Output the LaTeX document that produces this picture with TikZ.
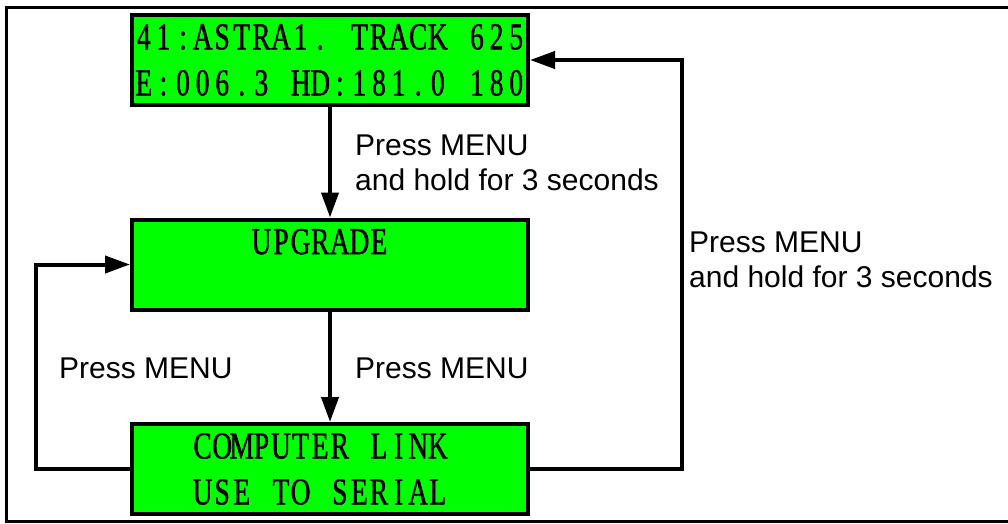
\documentclass[tikz,border=0pt]{standalone}
\usepackage{fontspec}
\setmainfont{Liberation Sans}
\newfontfamily\lcdfont[FakeStretch=0.72,FakeBold=1.2]{Liberation Serif}
\usetikzlibrary{arrows.meta}
\definecolor{lcdgreen}{RGB}{0,255,0}
\newlength\lcdpitch
\setlength\lcdpitch{19.6pt}
\def\lcdrow#1{\lcdcell#1\relax}
\def\lcdcell#1{\ifx#1\relax\else\makebox[\lcdpitch]{#1}\expandafter\lcdcell\fi}
\tikzset{
  lcd/.style={draw, line width=4pt, fill=lcdgreen, minimum width=396pt, minimum height=90pt,
    inner xsep=2pt, inner ysep=4pt, text width=392pt, align=left, font=\lcdfont\fontsize{38}{46}\selectfont},
  arr/.style={line width=4pt, -{Triangle[length=25pt,width=17pt]}},
  note/.style={inner sep=0pt, align=left, font=\fontsize{30}{35}\selectfont}
}
\begin{document}
\begin{tikzpicture}[x=1pt,y=-1pt]
\useasboundingbox (0,0) rectangle (1008,523);
\draw[line width=3pt] (1008,7) -- (6,7) -- (6,521) -- (1008,521);
\node[lcd] (track) at (330,60) {\lcdrow{41:ASTRA1.~TRACK~625}\\\lcdrow{E:006.3~HD:181.0~180}};
\node[lcd] (upgrade) at (330,264.5) {\lcdrow{~~~~~~UPGRADE}\\\mbox{}};
\node[lcd] (link) at (330,469) {\lcdrow{~~~COMPUTER~LINK}\\\lcdrow{~~~USE~TO~SERIAL}};
\draw[arr] (track.south) -- (upgrade.north);
\draw[arr] (upgrade.south) -- (link.north);
\draw[arr] (link.west) -- ++(-94,0) |- (upgrade.west);
\draw[arr] (link.east) -- ++(152,0) |- (track.east);
\node[note, anchor=north west] (holdmid) at (355,134.5) {Press MENU\\and hold for 3 seconds};
\node[note, anchor=north west] (holdright) at (689,231.5) {Press MENU\\and hold for 3 seconds};
\node[note, anchor=base west] (menuleft) at (59,378) {Press MENU};
\node[note, anchor=base west] (menumid) at (355,378) {Press MENU};
\end{tikzpicture}
\end{document}
